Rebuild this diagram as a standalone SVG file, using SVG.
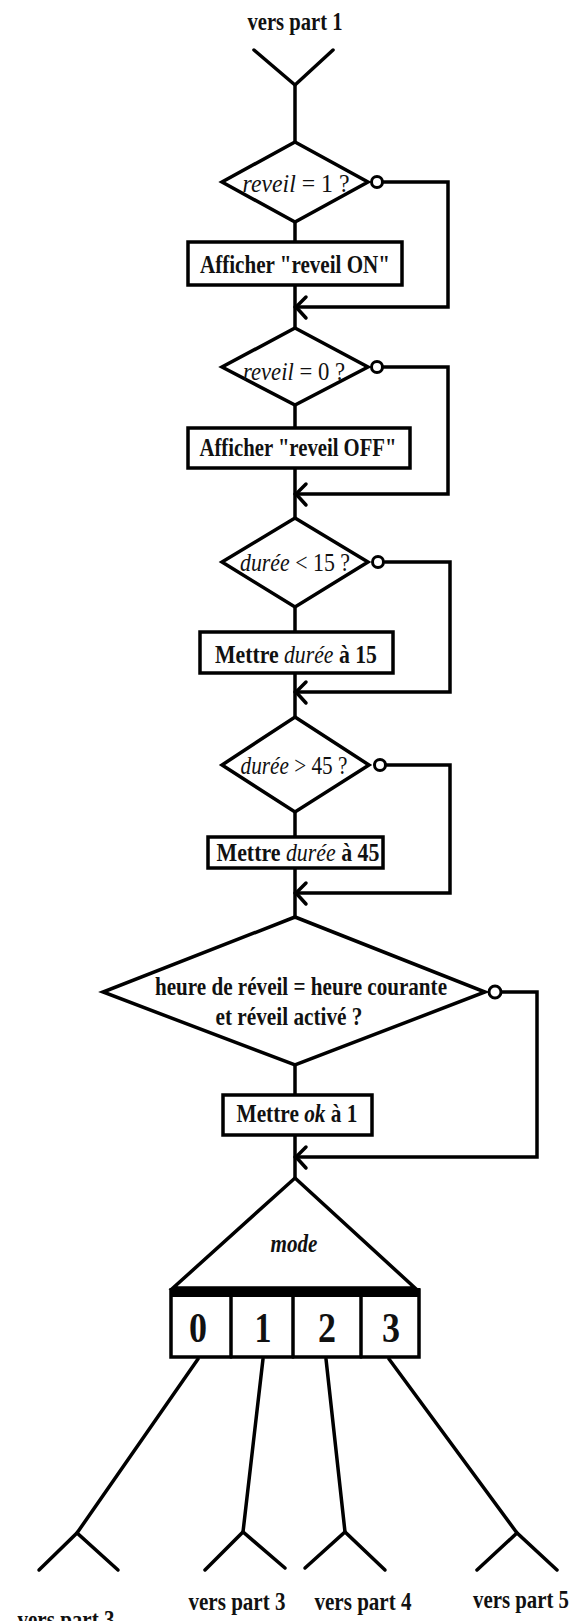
<svg xmlns="http://www.w3.org/2000/svg" width="577" height="1621" viewBox="0 0 577 1621">
<style>
.s{fill:none;stroke:#000;stroke-width:3.5;stroke-linejoin:miter;stroke-linecap:round}
.n{fill:#fff;stroke:#000;stroke-width:3.5}
.c{fill:#fff;stroke:#000;stroke-width:3}
.t{font-family:"Liberation Serif","Times New Roman",serif;font-size:25px;fill:#111;text-anchor:middle}
.b{font-weight:bold}
.i{font-style:italic;font-weight:normal}
.m{font-style:italic;font-weight:bold}
.d{font-family:"Liberation Serif","Times New Roman",serif;font-size:42px;font-weight:bold;fill:#111;text-anchor:middle}
</style>
<rect width="577" height="1621" fill="#fff"/>
<g id="connectors">
<polyline class="s" points="254,50 295,85 333,50"/>
<line class="s" x1="295" y1="85" x2="295" y2="142"/>
<line class="s" x1="295" y1="222" x2="295" y2="242"/>
<line class="s" x1="295" y1="285" x2="295" y2="328"/>
<line class="s" x1="295" y1="405" x2="295" y2="428"/>
<line class="s" x1="295" y1="468" x2="295" y2="518"/>
<line class="s" x1="295" y1="607" x2="295" y2="632"/>
<line class="s" x1="295" y1="673" x2="295" y2="717"/>
<line class="s" x1="295" y1="812" x2="295" y2="837"/>
<line class="s" x1="295" y1="868" x2="295" y2="917"/>
<line class="s" x1="295" y1="1065" x2="295" y2="1095"/>
<line class="s" x1="295" y1="1135" x2="295" y2="1178"/>
<polyline class="s" points="382,182 448,182 448,307 295,307"/>
<polyline class="s" points="306,297 296,307 306,318"/>
<polyline class="s" points="382,367 448,367 448,494 295,494"/>
<polyline class="s" points="306,484 296,494 306,505"/>
<polyline class="s" points="385,562 450,562 450,692 295,692"/>
<polyline class="s" points="306,682 296,692 306,703"/>
<polyline class="s" points="386,765 450,765 450,893 295,893"/>
<polyline class="s" points="306,883 296,893 306,904"/>
<polyline class="s" points="501,992 537,992 537,1157 295,1157"/>
<polyline class="s" points="306,1147 296,1157 306,1168"/>
<line class="s" x1="198" y1="1359" x2="77" y2="1533"/>
<polyline class="s" points="39,1570 77,1533 118,1570"/>
<line class="s" x1="263" y1="1359" x2="243" y2="1532"/>
<polyline class="s" points="205,1570 243,1532 285,1568"/>
<line class="s" x1="326" y1="1359" x2="345" y2="1532"/>
<polyline class="s" points="305,1568 345,1532 385,1570"/>
<line class="s" x1="389" y1="1359" x2="517" y2="1533"/>
<polyline class="s" points="477,1570 517,1533 557,1570"/>
</g>
<g id="start">
<text class="t b" x="295" y="30" textLength="95" lengthAdjust="spacingAndGlyphs">vers part 1</text>
</g>
<g id="d1">
<polygon class="n" points="295,142 368,182 295,222 222,182"/>
<circle class="c" cx="377" cy="182" r="5.5"/>
<text class="t" x="296" y="192" textLength="107" lengthAdjust="spacingAndGlyphs"><tspan class="i">reveil</tspan> = 1 ?</text>
</g>
<g id="b1">
<rect class="n" x="188" y="242" width="214" height="43"/>
<text class="t b" x="295" y="273" textLength="190" lengthAdjust="spacingAndGlyphs">Afficher "reveil ON"</text>
</g>
<g id="d2">
<polygon class="n" points="295,328 368,367 295,405 222,367"/>
<circle class="c" cx="377" cy="367" r="5.5"/>
<text class="t" x="294" y="380" textLength="102" lengthAdjust="spacingAndGlyphs"><tspan class="i">reveil</tspan> = 0 ?</text>
</g>
<g id="b2">
<rect class="n" x="188" y="428" width="222" height="40"/>
<text class="t b" x="298" y="456" textLength="197" lengthAdjust="spacingAndGlyphs">Afficher "reveil OFF"</text>
</g>
<g id="d3">
<polygon class="n" points="295,518 368,562 295,607 222,562"/>
<circle class="c" cx="378" cy="562" r="5.5"/>
<text class="t" x="295" y="571" textLength="110" lengthAdjust="spacingAndGlyphs"><tspan class="i">durée</tspan> &lt; 15 ?</text>
</g>
<g id="b3">
<rect class="n" x="200" y="632" width="193" height="41"/>
<text class="t b" x="296" y="663" textLength="162" lengthAdjust="spacingAndGlyphs">Mettre <tspan class="i">durée</tspan> à 15</text>
</g>
<g id="d4">
<polygon class="n" points="295,717 369,765 295,812 222,765"/>
<circle class="c" cx="380" cy="765" r="5.5"/>
<text class="t" x="294" y="774" textLength="107" lengthAdjust="spacingAndGlyphs"><tspan class="i">durée</tspan> &gt; 45 ?</text>
</g>
<g id="b4">
<rect class="n" x="208" y="837" width="175" height="31"/>
<text class="t b" x="298" y="861" textLength="163" lengthAdjust="spacingAndGlyphs">Mettre <tspan class="i">durée</tspan> à 45</text>
</g>
<g id="d5">
<polygon class="n" points="295,917 485,992 295,1065 103,992"/>
<circle class="c" cx="495" cy="992" r="6"/>
<text class="t b" x="301" y="995" textLength="292" lengthAdjust="spacingAndGlyphs">heure de réveil = heure courante</text>
<text class="t b" x="289" y="1025" textLength="147" lengthAdjust="spacingAndGlyphs">et réveil activé ?</text>
</g>
<g id="b5">
<rect class="n" x="223" y="1095" width="149" height="40"/>
<text class="t b" x="297" y="1122" textLength="121" lengthAdjust="spacingAndGlyphs">Mettre <tspan class="m">ok</tspan> à 1</text>
</g>
<g id="switch">
<polygon class="n" points="295,1178 415,1288 173,1288"/>
<text class="t m" x="294" y="1252" textLength="47" lengthAdjust="spacingAndGlyphs">mode</text>
<rect class="n" x="171" y="1290" width="248" height="67"/>
<rect x="170" y="1288" width="250" height="9" fill="#000"/>
<line class="s" x1="231" y1="1296" x2="231" y2="1357"/>
<line class="s" x1="293" y1="1296" x2="293" y2="1357"/>
<line class="s" x1="361" y1="1296" x2="361" y2="1357"/>
<text class="d" x="198" y="1342" textLength="18" lengthAdjust="spacingAndGlyphs">0</text>
<text class="d" x="263" y="1342" textLength="17" lengthAdjust="spacingAndGlyphs">1</text>
<text class="d" x="327" y="1342" textLength="18" lengthAdjust="spacingAndGlyphs">2</text>
<text class="d" x="391" y="1342" textLength="18" lengthAdjust="spacingAndGlyphs">3</text>
</g>
<g id="out0">
<text class="t b" x="66" y="1628" textLength="97" lengthAdjust="spacingAndGlyphs">vers part 3</text>
</g>
<g id="out1">
<text class="t b" x="237" y="1610" textLength="97" lengthAdjust="spacingAndGlyphs">vers part 3</text>
</g>
<g id="out2">
<text class="t b" x="363" y="1610" textLength="97" lengthAdjust="spacingAndGlyphs">vers part 4</text>
</g>
<g id="out3">
<text class="t b" x="521" y="1608" textLength="96" lengthAdjust="spacingAndGlyphs">vers part 5</text>
</g>
</svg>
